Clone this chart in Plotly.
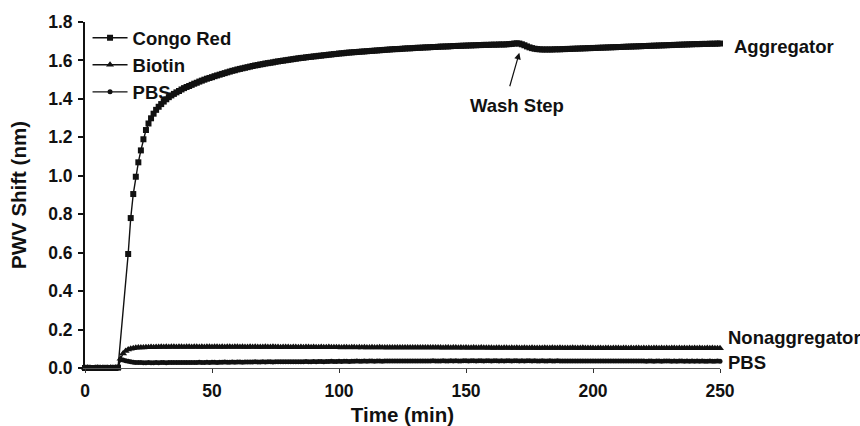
import plotly.graph_objects as go

# Sampling times (min)
time_full = list(range(0, 251))
time_congo = list(range(0, 14)) + list(range(17, 251))

# PWV shift (nm) for each treatment
congo_red = [
    0.000, 0.001, 0.000, -0.001, 0.000, 0.001, 0.000, 0.000, 0.001, 0.000,
    0.000, 0.001, 0.000, 0.002,
    0.593, 0.780, 0.905, 0.995, 1.070, 1.132, 1.190, 1.238, 1.272, 1.299,
    1.323, 1.343, 1.359, 1.373, 1.386, 1.398, 1.409, 1.418, 1.426, 1.434,
    1.441, 1.449, 1.456, 1.462, 1.467, 1.473, 1.479, 1.484, 1.490, 1.495,
    1.500, 1.505, 1.509, 1.513, 1.518, 1.522, 1.526, 1.530, 1.534, 1.538,
    1.542, 1.546, 1.549, 1.553, 1.556, 1.559, 1.562, 1.565, 1.568, 1.571,
    1.574, 1.576, 1.579, 1.581, 1.584, 1.586, 1.588, 1.590, 1.593, 1.595,
    1.597, 1.599, 1.601, 1.603, 1.605, 1.607, 1.609, 1.611, 1.613, 1.614,
    1.616, 1.618, 1.619, 1.621, 1.622, 1.624, 1.625, 1.627, 1.628, 1.630,
    1.631, 1.633, 1.634, 1.636, 1.637, 1.638, 1.640, 1.641, 1.642, 1.643,
    1.644, 1.645, 1.646, 1.647, 1.648, 1.649, 1.650, 1.651, 1.652, 1.653,
    1.654, 1.655, 1.656, 1.657, 1.658, 1.659, 1.659, 1.660, 1.661, 1.662,
    1.663, 1.663, 1.664, 1.665, 1.666, 1.666, 1.667, 1.668, 1.668, 1.669,
    1.670, 1.670, 1.671, 1.672, 1.672, 1.673, 1.673, 1.674, 1.675, 1.675,
    1.676, 1.676, 1.677, 1.677, 1.678, 1.678, 1.679, 1.679, 1.680, 1.680,
    1.681, 1.681, 1.681, 1.682, 1.682, 1.682, 1.683, 1.683, 1.683, 1.684,
    1.685, 1.686, 1.688, 1.689, 1.688, 1.684, 1.679, 1.673, 1.668, 1.664,
    1.661, 1.659, 1.658, 1.657, 1.657, 1.657, 1.657, 1.657, 1.658, 1.658,
    1.658, 1.659, 1.659, 1.660, 1.660, 1.661, 1.661, 1.662, 1.662, 1.663,
    1.663, 1.664, 1.664, 1.665, 1.665, 1.666, 1.666, 1.667, 1.667, 1.668,
    1.668, 1.669, 1.669, 1.670, 1.670, 1.671, 1.671, 1.672, 1.672, 1.673,
    1.673, 1.674, 1.674, 1.675, 1.675, 1.676, 1.676, 1.677, 1.677, 1.678,
    1.678, 1.679, 1.679, 1.680, 1.680, 1.681, 1.681, 1.682, 1.682, 1.683,
    1.683, 1.684, 1.684, 1.685, 1.685, 1.685, 1.686, 1.686, 1.686, 1.687,
    1.687, 1.687, 1.688, 1.688,
]

biotin = [
    0.000, 0.001, 0.000, -0.001, 0.000, 0.001, 0.000, 0.000, -0.001, 0.000,
    0.001, 0.000, 0.000, 0.002, 0.048, 0.076, 0.089, 0.096, 0.100, 0.103,
    0.105, 0.106, 0.107, 0.107, 0.108, 0.108, 0.109, 0.108, 0.109, 0.109,
    0.110, 0.109, 0.110, 0.109, 0.110, 0.110, 0.109, 0.110, 0.110, 0.109,
    0.110, 0.110, 0.109, 0.110, 0.110, 0.109, 0.110, 0.109, 0.110, 0.110,
    0.109, 0.110, 0.110, 0.109, 0.110, 0.109, 0.110, 0.110, 0.109, 0.110,
    0.110, 0.109, 0.110, 0.109, 0.109, 0.110, 0.109, 0.110, 0.109, 0.109,
    0.109, 0.110, 0.109, 0.109, 0.110, 0.109, 0.109, 0.108, 0.109, 0.109,
    0.109, 0.108, 0.109, 0.109, 0.108, 0.109, 0.108, 0.109, 0.109, 0.108,
    0.109, 0.108, 0.108, 0.109, 0.108, 0.108, 0.109, 0.108, 0.108, 0.108,
    0.108, 0.107, 0.108, 0.108, 0.107, 0.108, 0.108, 0.107, 0.108, 0.107,
    0.108, 0.107, 0.107, 0.108, 0.107, 0.107, 0.108, 0.107, 0.107, 0.107,
    0.107, 0.106, 0.107, 0.107, 0.106, 0.107, 0.107, 0.106, 0.107, 0.106,
    0.107, 0.106, 0.106, 0.107, 0.106, 0.106, 0.107, 0.106, 0.106, 0.106,
    0.106, 0.105, 0.106, 0.106, 0.105, 0.106, 0.106, 0.105, 0.106, 0.105,
    0.106, 0.105, 0.105, 0.106, 0.105, 0.105, 0.106, 0.105, 0.105, 0.105,
    0.105, 0.104, 0.105, 0.105, 0.104, 0.105, 0.105, 0.104, 0.105, 0.104,
    0.105, 0.104, 0.104, 0.105, 0.104, 0.104, 0.105, 0.104, 0.104, 0.104,
    0.104, 0.105, 0.104, 0.104, 0.105, 0.104, 0.104, 0.105, 0.104, 0.104,
    0.104, 0.104, 0.105, 0.104, 0.104, 0.104, 0.105, 0.104, 0.104, 0.104,
    0.104, 0.103, 0.104, 0.104, 0.103, 0.104, 0.104, 0.103, 0.104, 0.104,
    0.104, 0.103, 0.104, 0.104, 0.103, 0.104, 0.103, 0.104, 0.104, 0.103,
    0.104, 0.103, 0.104, 0.103, 0.104, 0.104, 0.103, 0.104, 0.103, 0.104,
    0.103, 0.104, 0.104, 0.103, 0.104, 0.103, 0.104, 0.103, 0.104, 0.103,
    0.104, 0.103, 0.104, 0.103, 0.103, 0.104, 0.103, 0.104, 0.103, 0.103,
    0.103,
]

pbs = [
    0.000, 0.000, 0.001, 0.000, -0.001, 0.000, 0.000, 0.001, 0.000, 0.000,
    0.000, 0.001, 0.000, 0.003, 0.043, 0.041, 0.038, 0.035, 0.032, 0.030,
    0.029, 0.028, 0.028, 0.027, 0.027, 0.028, 0.027, 0.027, 0.028, 0.027,
    0.028, 0.028, 0.027, 0.028, 0.028, 0.029, 0.028, 0.028, 0.029, 0.028,
    0.029, 0.029, 0.028, 0.029, 0.029, 0.030, 0.029, 0.029, 0.030, 0.029,
    0.030, 0.030, 0.029, 0.030, 0.030, 0.031, 0.030, 0.030, 0.031, 0.030,
    0.031, 0.031, 0.030, 0.031, 0.031, 0.031, 0.031, 0.032, 0.031, 0.031,
    0.032, 0.031, 0.032, 0.032, 0.031, 0.032, 0.032, 0.033, 0.032, 0.032,
    0.033, 0.032, 0.033, 0.033, 0.032, 0.033, 0.033, 0.034, 0.033, 0.033,
    0.034, 0.033, 0.034, 0.034, 0.033, 0.034, 0.034, 0.035, 0.034, 0.034,
    0.035, 0.034, 0.035, 0.035, 0.034, 0.035, 0.035, 0.036, 0.035, 0.035,
    0.036, 0.035, 0.036, 0.036, 0.035, 0.036, 0.036, 0.035, 0.036, 0.036,
    0.036, 0.037, 0.036, 0.036, 0.037, 0.036, 0.036, 0.037, 0.036, 0.037,
    0.037, 0.036, 0.037, 0.037, 0.036, 0.037, 0.037, 0.038, 0.037, 0.037,
    0.037, 0.038, 0.037, 0.037, 0.038, 0.037, 0.038, 0.037, 0.037, 0.038,
    0.038, 0.037, 0.038, 0.038, 0.037, 0.038, 0.038, 0.037, 0.038, 0.038,
    0.037, 0.038, 0.038, 0.037, 0.038, 0.037, 0.038, 0.038, 0.037, 0.038,
    0.038, 0.037, 0.038, 0.037, 0.038, 0.038, 0.037, 0.038, 0.037, 0.037,
    0.038, 0.037, 0.037, 0.038, 0.037, 0.037, 0.038, 0.037, 0.037, 0.037,
    0.037, 0.036, 0.037, 0.037, 0.036, 0.037, 0.037, 0.036, 0.037, 0.037,
    0.037, 0.036, 0.037, 0.036, 0.036, 0.037, 0.036, 0.036, 0.037, 0.036,
    0.036, 0.037, 0.036, 0.036, 0.037, 0.036, 0.036, 0.037, 0.036, 0.036,
    0.036, 0.035, 0.036, 0.036, 0.035, 0.036, 0.036, 0.035, 0.036, 0.036,
    0.036, 0.035, 0.036, 0.035, 0.036, 0.036, 0.035, 0.036, 0.035, 0.036,
    0.035, 0.036, 0.035, 0.036, 0.035, 0.035, 0.036, 0.035, 0.035, 0.036,
    0.035,
]

x_ticks = [0, 50, 100, 150, 200, 250]
y_ticks = [0.0, 0.2, 0.4, 0.6, 0.8, 1.0, 1.2, 1.4, 1.6, 1.8]

FONT = "Liberation Sans, Arial, sans-serif"
INK = "#111111"

fig = go.Figure()

series = [
    ("PBS", time_full, pbs, "circle", 5, 3),
    ("Biotin", time_full, biotin, "triangle-up", 7, 2),
    ("Congo Red", time_congo, congo_red, "square", 6, 1),
]
for name, t, y, symbol, size, rank in series:
    fig.add_trace(go.Scatter(
        x=t, y=y, name=name, mode="lines+markers",
        line=dict(color=INK, width=1.4),
        marker=dict(symbol=symbol, size=size, color=INK,
                    line=dict(width=0)),
        legendrank=rank, cliponaxis=False,
    ))

label_font = dict(family=FONT, size=18.5, color=INK, weight="bold")

# Curve labels at the right end of each trace
fig.add_annotation(x=time_congo[-1], y=congo_red[-1], text="Aggregator",
                   xanchor="left", yanchor="middle", xshift=12, yshift=-3,
                   showarrow=False, font=label_font)
fig.add_annotation(x=time_full[-1], y=biotin[-1], text="Nonaggregator",
                   xanchor="left", yanchor="middle", xshift=6, yshift=11,
                   showarrow=False, font=label_font)
fig.add_annotation(x=time_full[-1], y=pbs[-1], text="PBS",
                   xanchor="left", yanchor="middle", xshift=6, yshift=-1,
                   showarrow=False, font=label_font)

# Wash step marker
wash_t = 171
fig.add_annotation(x=wash_t, y=1.64, text="", showarrow=True,
                   ax=-10, ay=35, arrowhead=2, arrowsize=1.1,
                   arrowwidth=1.2, arrowcolor=INK)
fig.add_annotation(x=wash_t, y=1.365, text="Wash Step", showarrow=False,
                   xanchor="center", yanchor="middle", xshift=-2,
                   font=label_font)

fig.update_layout(
    width=860, height=426,
    margin=dict(l=85, r=140, t=22, b=58, autoexpand=False),
    paper_bgcolor="white", plot_bgcolor="white",
    font=dict(family=FONT, color=INK),
    showlegend=True,
    legend=dict(x=0.004, y=1.008, xanchor="left", yanchor="top",
                bgcolor="rgba(0,0,0,0)", borderwidth=0,
                tracegroupgap=0, itemwidth=35,
                font=dict(family=FONT, size=18.5, color=INK, weight="bold")),
)

fig.update_xaxes(
    range=[0, 250], tickvals=x_ticks, ticks="outside", ticklen=4,
    tickwidth=1, tickcolor="#333", showline=True, linecolor="#555",
    linewidth=1, showgrid=False, zeroline=False, ticklabelstandoff=3,
    automargin=False,
    tickfont=dict(family=FONT, size=17.5, color=INK, weight="bold"),
    title=dict(text="Time (min)", standoff=10,
               font=dict(family=FONT, size=20.5, color=INK, weight="bold")),
)
fig.update_yaxes(
    range=[0, 1.8], tickvals=y_ticks, tickformat=".1f", ticks="outside",
    ticklen=5, tickwidth=1.5, tickcolor=INK, showline=True,
    linecolor=INK, linewidth=2, showgrid=False, zeroline=False,
    ticklabelstandoff=2, automargin=False,
    tickfont=dict(family=FONT, size=17.5, color=INK, weight="bold"),
    title=dict(text="PWV Shift (nm)", standoff=16,
               font=dict(family=FONT, size=20.5, color=INK, weight="bold")),
)

fig.write_html("out.html")
